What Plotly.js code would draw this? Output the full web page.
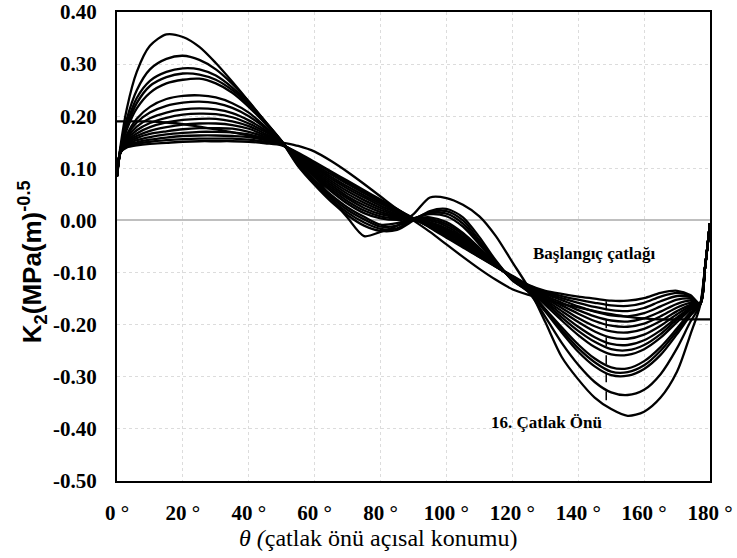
<!DOCTYPE html>
<html>
<head>
<meta charset="utf-8">
<script src="https://cdn.plot.ly/plotly-3.0.1.min.js"></script>
<style>html,body{margin:0;padding:0;background:#fff;}#chart{width:737px;height:558px;}</style>
</head>
<body>
<div id="chart"></div>
<script>
// Angular position along crack front (degrees)
const theta = [0,1,3,6,10,15,20,25,30,35,40,45,50,55,60,65,70,75,80,85,90,95,100,105,110,115,120,125,130,135,140,145,150,155,160,165,170,174,177,178.5,180];

// Initial crack (Başlangıç çatlağı)
const initialCrack = [0.19,0.19,0.19,0.19,0.19,0.188,0.185,0.18,0.175,0.169,0.163,0.157,0.15,
  0.143,0.132,0.114,0.093,0.07,0.046,0.022,0.0,-0.022,-0.046,-0.07,-0.093,-0.114,-0.132,-0.143,
  -0.152,-0.16,-0.167,-0.174,-0.18,-0.185,-0.188,-0.19,-0.19,-0.19,-0.19,-0.19,-0.19];

// Crack fronts 1..16
const front1 = [0.085,0.13,0.14,0.144,0.147,0.149,0.151,0.152,0.152,0.152,0.151,0.148,0.144,
  0.13,0.112,0.094,0.076,0.058,0.04,0.022,0.004,-0.014,-0.033,-0.052,-0.07,-0.088,-0.106,-0.124,
  -0.135,-0.141,-0.146,-0.15,-0.154,-0.154,-0.149,-0.139,-0.135,-0.143,-0.16,-0.09,-0.005];
const front2 = [0.085,0.13,0.142,0.147,0.151,0.154,0.156,0.157,0.157,0.157,0.155,0.151,0.145,
  0.128,0.11,0.092,0.073,0.055,0.038,0.021,0.004,-0.013,-0.031,-0.05,-0.07,-0.089,-0.107,-0.125,
  -0.137,-0.145,-0.152,-0.158,-0.163,-0.164,-0.158,-0.146,-0.139,-0.145,-0.16,-0.09,-0.005];
const front3 = [0.085,0.13,0.144,0.15,0.155,0.159,0.162,0.163,0.163,0.162,0.16,0.154,0.146,
  0.127,0.107,0.088,0.07,0.052,0.035,0.019,0.003,-0.012,-0.029,-0.048,-0.068,-0.089,-0.108,-0.126,
  -0.139,-0.149,-0.158,-0.166,-0.172,-0.174,-0.168,-0.155,-0.145,-0.147,-0.16,-0.09,-0.005];
const front4 = [0.085,0.13,0.146,0.154,0.16,0.165,0.168,0.17,0.17,0.169,0.165,0.157,0.147,
  0.125,0.104,0.084,0.065,0.048,0.032,0.017,0.003,-0.011,-0.027,-0.046,-0.066,-0.088,-0.108,-0.127,
  -0.141,-0.153,-0.165,-0.175,-0.182,-0.184,-0.178,-0.165,-0.152,-0.15,-0.16,-0.09,-0.005];
const front5 = [0.085,0.13,0.148,0.158,0.166,0.171,0.175,0.177,0.177,0.176,0.17,0.16,0.147,
  0.123,0.101,0.08,0.061,0.044,0.028,0.015,0.003,-0.009,-0.024,-0.043,-0.065,-0.087,-0.109,-0.128,
  -0.144,-0.158,-0.172,-0.184,-0.192,-0.194,-0.188,-0.175,-0.16,-0.154,-0.16,-0.09,-0.005];
const front6 = [0.085,0.13,0.15,0.162,0.172,0.179,0.184,0.186,0.186,0.183,0.176,0.163,0.148,
  0.121,0.098,0.076,0.056,0.039,0.024,0.012,0.003,-0.007,-0.021,-0.04,-0.063,-0.087,-0.109,-0.129,
  -0.146,-0.163,-0.179,-0.193,-0.202,-0.204,-0.198,-0.184,-0.167,-0.158,-0.16,-0.09,-0.005];
const front7 = [0.085,0.13,0.152,0.167,0.179,0.188,0.193,0.195,0.195,0.19,0.181,0.166,0.148,
  0.12,0.095,0.072,0.051,0.034,0.02,0.01,0.003,-0.005,-0.018,-0.037,-0.061,-0.086,-0.11,-0.13,
  -0.149,-0.168,-0.187,-0.203,-0.213,-0.215,-0.208,-0.193,-0.174,-0.162,-0.16,-0.09,-0.005];
const front8 = [0.085,0.13,0.155,0.173,0.187,0.197,0.203,0.205,0.204,0.198,0.186,0.17,0.149,
  0.118,0.092,0.068,0.046,0.029,0.016,0.008,0.003,-0.003,-0.015,-0.034,-0.059,-0.086,-0.11,-0.131,
  -0.152,-0.174,-0.195,-0.213,-0.225,-0.227,-0.219,-0.202,-0.18,-0.165,-0.16,-0.09,-0.005];
const front9 = [0.085,0.13,0.158,0.18,0.196,0.207,0.213,0.215,0.213,0.206,0.192,0.173,0.149,
  0.116,0.089,0.064,0.042,0.024,0.012,0.006,0.003,0.0,-0.011,-0.031,-0.057,-0.085,-0.111,-0.132,
  -0.155,-0.18,-0.204,-0.224,-0.237,-0.239,-0.23,-0.211,-0.186,-0.168,-0.16,-0.09,-0.005];
const front10 = [0.085,0.13,0.162,0.188,0.207,0.22,0.226,0.228,0.225,0.216,0.2,0.177,0.15,
  0.115,0.086,0.06,0.037,0.019,0.008,0.004,0.004,0.003,-0.007,-0.027,-0.055,-0.085,-0.112,-0.133,
  -0.158,-0.186,-0.212,-0.233,-0.247,-0.249,-0.239,-0.218,-0.19,-0.17,-0.16,-0.09,-0.005];
const front11 = [0.085,0.13,0.165,0.195,0.218,0.233,0.239,0.24,0.236,0.225,0.207,0.18,0.15,
  0.113,0.083,0.056,0.032,0.014,0.004,0.001,0.004,0.006,-0.003,-0.024,-0.053,-0.084,-0.112,-0.134,
  -0.162,-0.192,-0.22,-0.243,-0.257,-0.258,-0.247,-0.225,-0.195,-0.172,-0.16,-0.09,-0.005];
const front12 = [0.085,0.135,0.175,0.215,0.245,0.263,0.27,0.272,0.263,0.245,0.218,0.186,0.152,
  0.11,0.078,0.049,0.025,0.007,-0.008,-0.005,0.004,0.012,0.008,-0.012,-0.046,-0.082,-0.113,-0.135,
  -0.17,-0.205,-0.238,-0.265,-0.282,-0.284,-0.27,-0.243,-0.207,-0.177,-0.161,-0.09,-0.005];
const front13 = [0.085,0.135,0.18,0.225,0.258,0.275,0.282,0.28,0.27,0.25,0.222,0.188,0.152,
  0.108,0.075,0.045,0.02,0.002,-0.012,-0.01,0.003,0.014,0.013,-0.006,-0.042,-0.08,-0.114,-0.136,
  -0.172,-0.21,-0.245,-0.272,-0.29,-0.291,-0.278,-0.25,-0.212,-0.18,-0.161,-0.09,-0.005];
const front14 = [0.085,0.135,0.185,0.235,0.268,0.285,0.292,0.29,0.278,0.255,0.225,0.19,0.152,
  0.106,0.072,0.041,0.015,-0.004,-0.016,-0.015,0.002,0.016,0.018,0.0,-0.038,-0.079,-0.114,-0.137,
  -0.175,-0.215,-0.252,-0.28,-0.297,-0.298,-0.285,-0.258,-0.218,-0.183,-0.161,-0.09,-0.005];
const front15 = [0.085,0.135,0.195,0.25,0.29,0.31,0.316,0.308,0.29,0.262,0.228,0.19,0.152,
  0.104,0.068,0.036,0.01,-0.01,-0.02,-0.018,0.0,0.018,0.022,0.006,-0.032,-0.077,-0.115,-0.138,
  -0.185,-0.235,-0.277,-0.31,-0.33,-0.335,-0.325,-0.295,-0.245,-0.195,-0.162,-0.09,-0.005];
const front16 = [0.085,0.14,0.215,0.285,0.335,0.357,0.352,0.333,0.302,0.266,0.228,0.188,0.15,
  0.12,0.086,0.043,0.005,-0.03,-0.022,-0.01,0.012,0.044,0.043,0.03,0.008,-0.03,-0.08,-0.13,
  -0.195,-0.262,-0.305,-0.34,-0.362,-0.375,-0.367,-0.34,-0.29,-0.22,-0.163,-0.09,-0.005];

const xTickVals = [0,20,40,60,80,100,120,140,160,180];
const xTickText = ['0 °','20 °','40 °','60 °','80 °','100 °','120 °','140 °','160 °','180 °'];
const yTickVals = [0.4,0.3,0.2,0.1,0,-0.1,-0.2,-0.3,-0.4,-0.5];
const yTickText = ['0.40','0.30','0.20','0.10','0.00','-0.10','-0.20','-0.30','-0.40','-0.50'];

const series = [initialCrack, front1, front2, front3, front4, front5, front6, front7, front8,
  front9, front10, front11, front12, front13, front14, front15, front16];

const traces = series.map(function (ys) {
  return {
    x: theta, y: ys, type: 'scatter', mode: 'lines',
    line: {color: '#000000', width: 2.3, shape: 'spline', smoothing: 0.8},
    hoverinfo: 'skip', showlegend: false
  };
});

const serif = 'Liberation Serif, Times New Roman, serif';

const layout = {
  width: 737, height: 558,
  margin: {l: 117, r: 27, t: 12, b: 77},
  paper_bgcolor: '#ffffff', plot_bgcolor: '#ffffff',
  showlegend: false,
  xaxis: {
    range: [0, 180], tickvals: xTickVals, ticktext: xTickText,
    showgrid: true, gridcolor: '#dcdcdc', griddash: 'dot', gridwidth: 1,
    showline: true, linecolor: '#000000', linewidth: 2, mirror: true,
    zeroline: false, ticks: '', ticklabelstandoff: 12,
    tickfont: {family: serif, size: 21, color: '#000000', weight: 'bold'}
  },
  yaxis: {
    range: [-0.5, 0.4], tickvals: yTickVals, ticktext: yTickText,
    showgrid: true, gridcolor: '#dcdcdc', griddash: 'dot', gridwidth: 1,
    showline: true, linecolor: '#000000', linewidth: 2, mirror: true,
    zeroline: true, zerolinecolor: '#bfbfbf', zerolinewidth: 2,
    ticks: '', ticklabelstandoff: 14,
    tickfont: {family: serif, size: 21, color: '#000000', weight: 'bold'}
  },
  annotations: [
    {xref: 'paper', yref: 'paper', x: -0.143, y: 0.467, xanchor: 'center', yanchor: 'middle',
     textangle: -90, showarrow: false, text: '<b>K<sub>2</sub>(MPa(m)<sup>-0.5</sup></b>',
     font: {family: 'Liberation Sans, Arial, sans-serif', size: 26, color: '#000000'}},
    {xref: 'paper', yref: 'paper', x: 0.44, y: -0.122, xanchor: 'center', yanchor: 'middle',
     showarrow: false, text: '<i>θ (</i>çatlak önü açısal konumu)',
     font: {family: serif, size: 24, color: '#000000'}},
    {xref: 'x', yref: 'y', x: 145, y: -0.063, xanchor: 'center', yanchor: 'middle',
     showarrow: false, text: '<b>Başlangıç çatlağı</b>',
     font: {family: serif, size: 17, color: '#000000'}},
    {xref: 'x', yref: 'y', x: 130.3, y: -0.387, xanchor: 'center', yanchor: 'middle',
     showarrow: false, text: '<b>16. Çatlak Önü</b>',
     font: {family: serif, size: 17, color: '#000000'}}
  ],
  shapes: [
    {type: 'line', xref: 'x', yref: 'y', x0: 148.5, x1: 148.5, y0: -0.155, y1: -0.352,
     line: {color: '#000000', width: 1.5, dash: 'dash'}}
  ]
};

Plotly.newPlot('chart', traces, layout, {displayModeBar: false, staticPlot: true});
</script>
</body>
</html>
